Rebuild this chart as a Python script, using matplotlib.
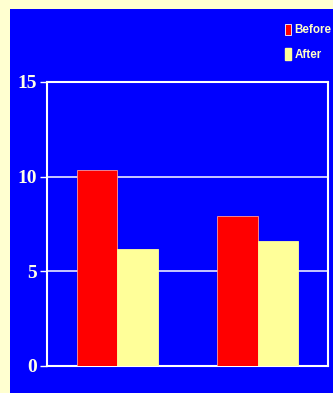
import numpy as np
import matplotlib.pyplot as plt
from matplotlib.patches import Rectangle, Patch

groups = ["A", "B"]
before = [10.35, 7.92]
after = [6.18, 6.60]
yticks = [0, 5, 10, 15]

W, H = 333, 393
fig = plt.figure(figsize=(W / 100, H / 100), dpi=100, facecolor="#FFFFD0")

# blue panel behind the chart
fig.patches.append(Rectangle((10 / W, 0), 1, (H - 9) / H, transform=fig.transFigure,
                             facecolor="#0000FF", edgecolor="none", zorder=-5))

ax = fig.add_axes([47 / W, (H - 366) / H, 281 / W, 284 / H])
ax.set_facecolor("#0000FF")

x = np.arange(len(groups))
bw = 0.288
ax.bar(x - bw / 2, before, bw, color="#FF0000", edgecolor="#FF9999", linewidth=0.6, zorder=3)
ax.bar(x + bw / 2, after, bw, color="#FFFF99", edgecolor="#FFFF99", linewidth=0.6, zorder=3)

ax.set_xlim(-0.5, 1.5)
ax.set_ylim(0, 15)
ax.set_yticks(yticks)
ax.set_yticklabels([str(t) for t in yticks], family="Liberation Serif", fontweight="bold",
                   fontsize=14, color="#FFFFE8")
ax.set_xticks([])
ax.tick_params(axis="y", colors="#FFFFFF", length=5, width=1, pad=2, labelcolor="#FFFFE8")
ax.yaxis.grid(True, color="#E8E8FF", linewidth=1.2, zorder=1)
for s in ax.spines.values():
    s.set_color("#FFFFFF")
    s.set_linewidth(1.5)

handles = [Patch(facecolor="#FF0000", edgecolor="#FFFFFF", linewidth=0.6, label="Before"),
           Patch(facecolor="#FFFF99", edgecolor="#FFFF99", label="After")]
fig.legend(handles=handles, loc="upper left", bbox_to_anchor=(280 / W, 1 - 19 / H),
           frameon=False, labelcolor="#FFFFC8", handlelength=0.55, handleheight=1.15,
           handletextpad=0.3, labelspacing=1.0, borderaxespad=0,
           prop={"family": "Liberation Sans", "weight": "bold", "size": 8.4})

fig.savefig("out.png", dpi=100, facecolor=fig.get_facecolor())
